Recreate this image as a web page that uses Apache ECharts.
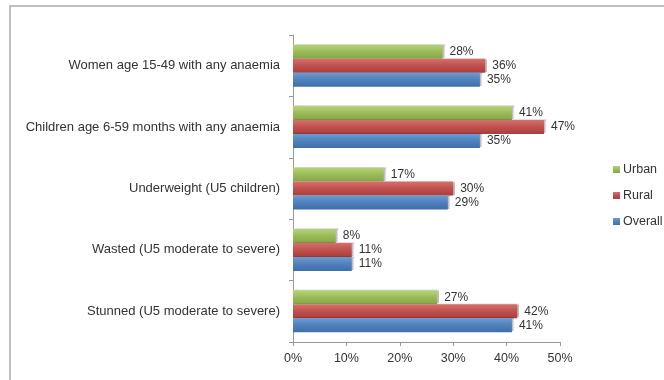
<!DOCTYPE html>
<html>
<head>
<meta charset="utf-8">
<script src="https://cdn.jsdelivr.net/npm/echarts@6/dist/echarts.min.js"></script>
<style>
  html, body { margin: 0; padding: 0; background: #fff; }
  #chart { width: 664px; height: 380px; }
</style>
</head>
<body>
<div id="chart"></div>
<script>
// categories, top to bottom
var categories = [
    'Women age 15-49 with any anaemia',
    'Children age 6-59 months with any anaemia',
    'Underweight (U5 children)',
    'Wasted (U5 moderate to severe)',
    'Stunned (U5 moderate to severe)'
];
var urban = [28, 41, 17, 8, 27];
var rural = [36, 47, 30, 11, 42];
var overall = [35, 35, 29, 11, 41];
var seriesNames = ['Urban', 'Rural', 'Overall'];

var font = 'Liberation Sans';

// bar with a soft vertical gradient, a bit like the office 3d look
var makeBar = function (name, data, top, mid, bottom) {
    return {
        name: name,
        type: 'bar',
        data: data,
        barWidth: 14,
        barGap: '0%',
        itemStyle: {
            color: new echarts.graphic.LinearGradient(0, 0, 0, 1, [
                {offset: 0, color: top},
                {offset: 0.5, color: mid},
                {offset: 1, color: bottom}
            ]),
            shadowColor: 'rgba(0,0,0,0.25)',
            shadowOffsetX: 2,
            shadowOffsetY: -1,
            shadowBlur: 1
        },
        label: {
            show: true,
            position: 'right',
            distance: 7,
            formatter: '{c}%',
            color: '#333',
            fontFamily: font,
            fontSize: 12
        }
    };
};

var chart = echarts.init(document.getElementById('chart'));
chart.setOption({
    animation: false,
    backgroundColor: '#fff',
    graphic: [{
        type: 'rect',
        shape: {x: 10, y: 6, width: 700, height: 400},
        style: {fill: 'none', stroke: '#aaa', lineWidth: 1.5},
        silent: true
    }],
    legend: {
        orient: 'vertical',
        left: 608,
        top: 158,
        itemWidth: 7,
        itemHeight: 7,
        itemGap: 13,
        icon: 'rect',
        data: seriesNames,
        textStyle: {fontFamily: font, fontSize: 12.5, color: '#333', padding: [0, 0, 0, -2]}
    },
    grid: {
        left: 293,
        right: 104,
        top: 35,
        bottom: 38,
        containLabel: false
    },
    xAxis: {
        type: 'value',
        min: 0,
        max: 50,
        interval: 10,
        splitLine: {show: false},
        axisLine: {show: true, lineStyle: {color: '#999'}},
        axisTick: {show: true, length: 4, lineStyle: {color: '#999'}},
        axisLabel: {
            formatter: '{value}%',
            color: '#333',
            fontFamily: font,
            fontSize: 12.5,
            margin: 10
        }
    },
    yAxis: {
        type: 'category',
        data: categories,
        inverse: true,
        axisLine: {show: true, lineStyle: {color: '#999'}},
        axisTick: {show: true, length: 4, lineStyle: {color: '#999'}},
        axisLabel: {
            color: '#333',
            fontFamily: font,
            fontSize: 13,
            margin: 13
        }
    },
    series: [
        makeBar('Urban', urban, '#b5d47a', '#9bbb59', '#86a548'),
        makeBar('Rural', rural, '#d6706d', '#c0504d', '#a83f3c'),
        makeBar('Overall', overall, '#6d9bd3', '#4f81bd', '#3f6fa8')
    ]
});
</script>
</body>
</html>
